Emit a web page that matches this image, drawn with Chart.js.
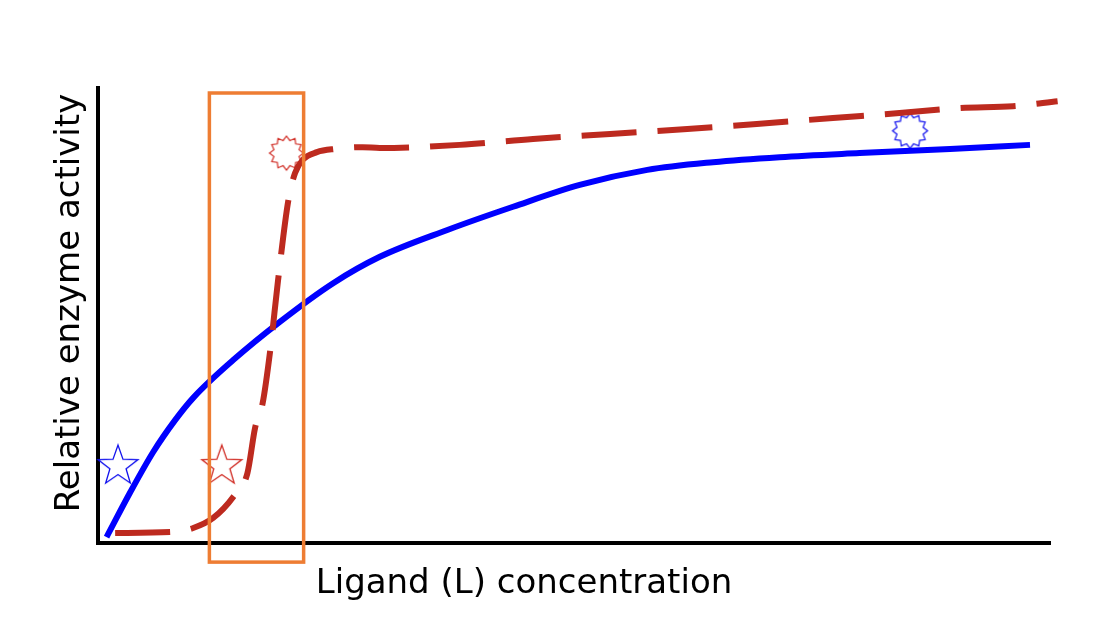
<!DOCTYPE html>
<html>
<head>
<meta charset="utf-8">
<script src="https://cdn.jsdelivr.net/npm/chart.js@4"></script>
<style>
  html, body { margin: 0; padding: 0; background: #fff; }
  #wrap { width: 1118px; height: 634px; }
</style>
</head>
<body>
<div id="wrap"><canvas id="chart"></canvas></div>
<script>
// curve without ligand-induced cooperativity (blue, solid)
const blueConc = [0.9, 3.4, 5.8, 8.1, 10.0, 14.2, 19.1, 24.7, 29.6, 36.7, 43.6, 50.6, 57.7, 64.6, 71.6, 80.0, 89.5, 97.9];
const blueActivity = [1.3, 11.2, 20.0, 27.0, 31.9, 40.2, 48.6, 57.1, 62.9, 68.8, 73.9, 78.7, 82.0, 83.7, 84.8, 85.7, 86.6, 87.5];

// cooperative (sigmoidal) curve (red, dashed)
const redConc = [1.8, 7.6, 10.0, 12.1, 14.2, 15.7, 16.5, 17.3, 18.1, 18.9, 20.0, 20.7, 21.5, 23.0, 24.9, 27.8, 29.6, 38.0, 45.7, 53.8, 61.9, 69.2, 77.2, 84.2, 90.6, 96.1, 100.8];
const redActivity = [2.2, 2.4, 3.3, 5.5, 10.1, 15.4, 25.3, 30.8, 42.5, 57.5, 75.4, 81.3, 84.2, 85.9, 86.6, 87.0, 86.8, 87.5, 88.8, 89.9, 91.0, 92.1, 93.4, 94.5, 95.6, 96.0, 97.1];

// marker positions: [conc, activity]
const blueStar = [2.1, 16.9];
const redStar = [13.0, 16.9];
const redBurst = [19.8, 85.7];
const blueBurst = [85.3, 90.6];

// highlighted concentration window (orange box)
const boxConc = [11.7, 21.6];
const boxActivity = [-4.2, 98.9];

const xTitle = 'Ligand (L) concentration';
const yTitle = 'Relative enzyme activity';

function toPoints(xs, ys) {
    return xs.map((x, i) => ({ x: x, y: ys[i] }));
}

function starImage(color, spikes, outer, inner, lw) {
    const c = document.createElement('canvas');
    const s = Math.ceil(outer * 2 + 4);
    c.width = s;
    c.height = s;
    const g = c.getContext('2d');
    g.strokeStyle = color;
    g.lineWidth = lw;
    g.lineJoin = 'miter';
    g.beginPath();
    for (let i = 0; i < spikes * 2; i++) {
        const r = i % 2 === 0 ? outer : inner;
        const a = -Math.PI / 2 + i * Math.PI / spikes;
        const px = s / 2 + r * Math.cos(a);
        const py = s / 2 + r * Math.sin(a);
        if (i === 0) g.moveTo(px, py); else g.lineTo(px, py);
    }
    g.closePath();
    g.stroke();
    return c;
}

const blueStarImg = starImage('#1010ee', 5, 21, 8.5, 1.3);
const redStarImg = starImage('#d02a22', 5, 21, 8.5, 1.3);
const redBurstImg = starImage('#d02a22', 12, 17, 13, 1.2);
const blueBurstImg = starImage('#1010ee', 12, 17.5, 13.5, 1.2);

const boxPlugin = {
    id: 'box',
    afterDatasetsDraw(chart) {
        const { ctx, scales: { x, y } } = chart;
        const x1 = x.getPixelForValue(boxConc[0]);
        const x2 = x.getPixelForValue(boxConc[1]);
        const y1 = y.getPixelForValue(boxActivity[1]);
        const y2 = y.getPixelForValue(boxActivity[0]);
        ctx.save();
        ctx.strokeStyle = '#ee7d33';
        ctx.lineWidth = 3.5;
        ctx.strokeRect(x1, y1, x2 - x1, y2 - y1);
        ctx.restore();
    }
};

const labelPlugin = {
    id: 'labels',
    afterDraw(chart) {
        const ctx = chart.ctx;
        ctx.save();
        ctx.fillStyle = '#000';
        ctx.font = '34px "DejaVu Sans"';
        ctx.textAlign = 'center';
        ctx.textBaseline = 'alphabetic';
        ctx.fillText(xTitle, 524, 593);
        ctx.translate(79, 303);
        ctx.rotate(-Math.PI / 2);
        ctx.fillText(yTitle, 0, 0);
        ctx.restore();
    }
};

const ctx = document.getElementById('chart').getContext('2d');
const myChart = new Chart(ctx, {
    type: 'line',
    data: {
        datasets: [
            {
                data: toPoints(blueConc, blueActivity),
                borderColor: '#0000ff',
                borderWidth: 6,
                pointRadius: 0,
                cubicInterpolationMode: 'monotone',
                clip: false,
                order: 2
            },
            {
                data: toPoints(redConc, redActivity),
                borderColor: '#bd2a1f',
                borderWidth: 6,
                borderDash: [55, 21],
                pointRadius: 0,
                cubicInterpolationMode: 'monotone',
                clip: false,
                order: 1
            },
            {
                type: 'scatter',
                data: [
                    { x: blueStar[0], y: blueStar[1] },
                    { x: redStar[0], y: redStar[1] },
                    { x: redBurst[0], y: redBurst[1] },
                    { x: blueBurst[0], y: blueBurst[1] }
                ],
                pointStyle: [blueStarImg, redStarImg, redBurstImg, blueBurstImg],
                clip: false,
                order: 3
            }
        ]
    },
    options: {
        responsive: true,
        maintainAspectRatio: false,
        animation: false,
        layout: { padding: { left: 98, top: 88, right: 68, bottom: 91 } },
        plugins: {
            legend: { display: false },
            tooltip: { enabled: false }
        },
        scales: {
            x: {
                type: 'linear',
                min: 0,
                max: 100,
                grid: { display: false, drawTicks: false },
                ticks: { display: false },
                border: { color: '#000', width: 4 }
            },
            y: {
                min: 0,
                max: 100,
                grid: { display: false, drawTicks: false },
                ticks: { display: false },
                border: { color: '#000', width: 4 }
            }
        }
    },
    plugins: [boxPlugin, labelPlugin]
});
</script>
</body>
</html>
